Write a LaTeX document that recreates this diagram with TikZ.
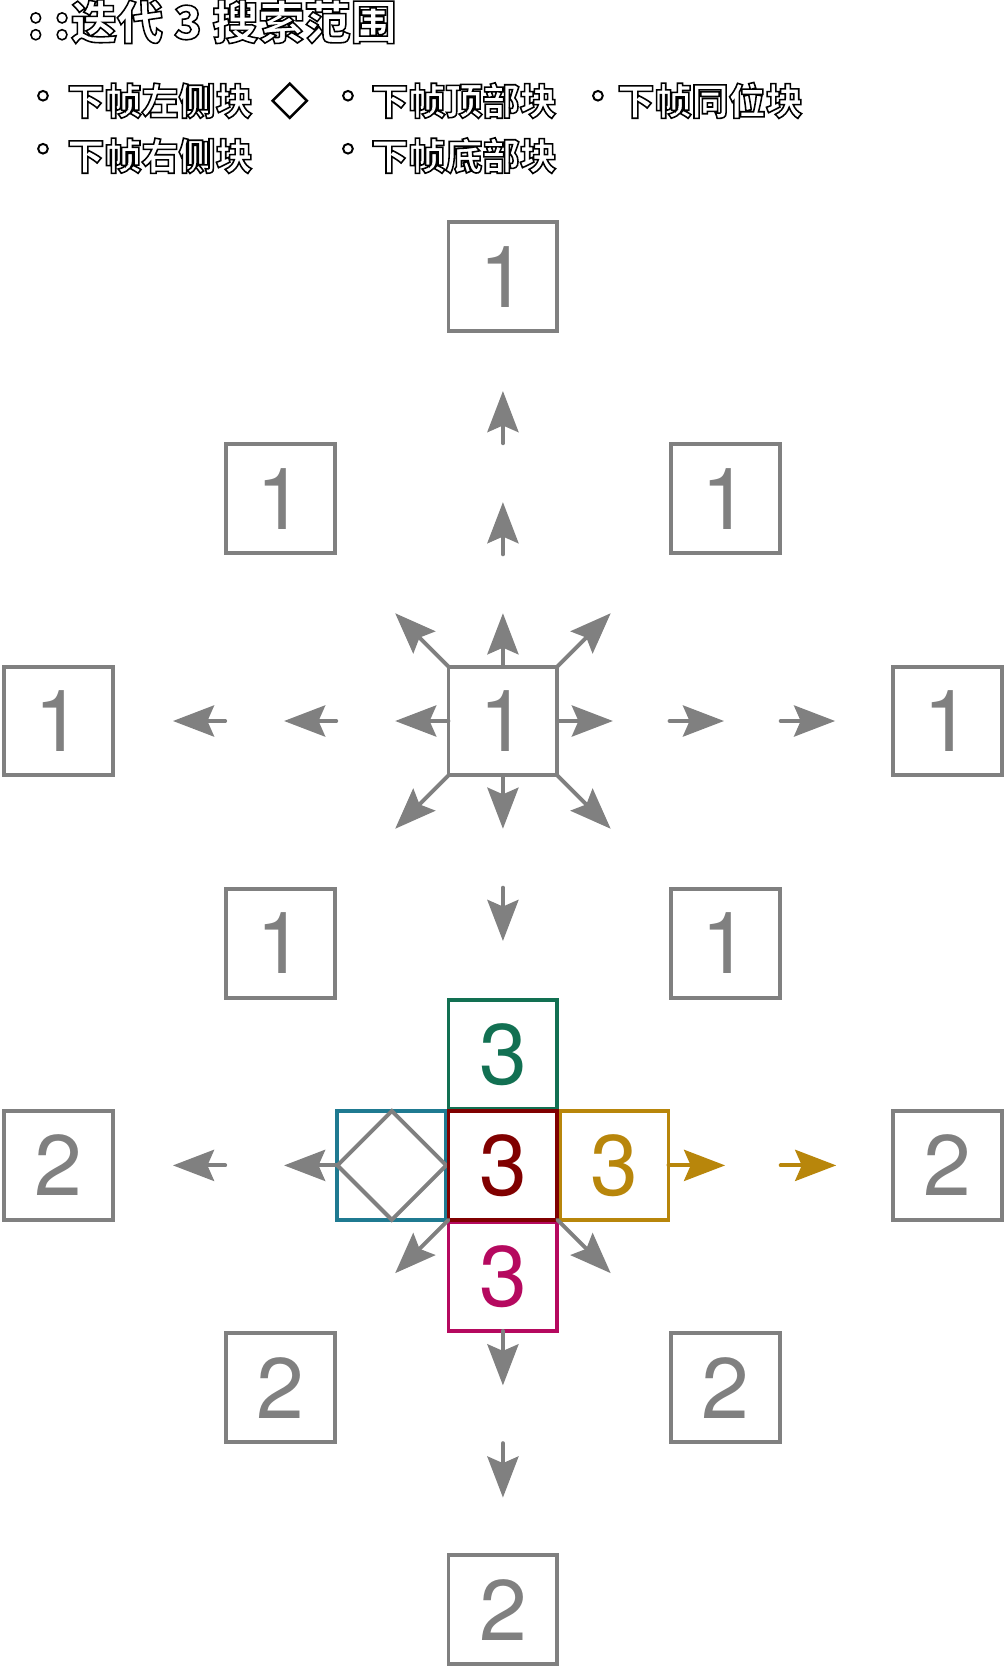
\documentclass[tikz,border=0pt]{standalone}
\usepackage{fontspec}
\setmainfont{TeX Gyre Heros}
\newfontfamily\cjkfont{Noto Sans CJK SC}
\newfontfamily\symfont{DejaVu Sans}
\usetikzlibrary{arrows.meta}
\definecolor{blkgray}{RGB}{128,128,128}
\definecolor{topgreen}{RGB}{18,112,82}
\definecolor{samered}{RGB}{128,0,0}
\definecolor{rightgold}{RGB}{184,134,11}
\definecolor{botmagenta}{RGB}{181,9,95}
\definecolor{leftblue}{RGB}{31,122,145}
% outlined (stroked) text
\newcommand{\hollow}[2][0.4]{\special{pdf:literal direct 1 Tr #1 w}#2\special{pdf:literal direct 0 Tr}}

\begin{document}
\begin{tikzpicture}[
    blk/.style={rectangle, draw=blkgray, line width=1pt, minimum size=0.98cm, inner sep=0pt, outer sep=0pt, text=blkgray, font=\fontsize{22}{22}\selectfont},
    arr/.style={-{Stealth[length=0.37cm, width=0.28cm, inset=0.06cm]}, draw=blkgray, line width=1pt, line cap=round},
    lgd/.style={anchor=base west, inner sep=0pt, font=\cjkfont\bfseries\fontsize{9.5}{9.5}\selectfont},
    lbullet/.style={inner sep=0pt, font=\symfont\fontsize{9.5}{9.5}\selectfont}]
    \useasboundingbox (-4.527,-8.524) rectangle (4.518,6.49);

    % title and legend
    \node[anchor=base west, inner sep=0pt, font=\cjkfont\bfseries\fontsize{11.8}{11.8}\selectfont] (title) at (-4.285,6.137) {\hollow{:\hspace{0.22em}:\hspace{0.02em}迭代 3 搜索范围}};
    \node[lbullet] (m1) at (-4.14,5.59) {\hollow[0.25]{◦}};
    \node[lgd] (k1) at (-3.929,5.456) {\hollow{下帧左侧块}\hspace{0.5em}{\mdseries\hollow[0.25]{◇}}};
    \node[lbullet] (m2) at (-1.395,5.59) {\hollow[0.25]{◦}};
    \node[lgd] (k2) at (-1.193,5.456) {\hollow{下帧顶部块}};
    \node[lbullet] (m3) at (0.855,5.59) {\hollow[0.25]{◦}};
    \node[lgd] (k3) at (1.022,5.456) {\hollow{下帧同位块}};
    \node[lbullet] (m4) at (-4.14,5.113) {\hollow[0.25]{◦}};
    \node[lgd] (k4) at (-3.929,4.961) {\hollow{下帧右侧块}};
    \node[lbullet] (m5) at (-1.395,5.113) {\hollow[0.25]{◦}};
    \node[lgd] (k5) at (-1.193,4.961) {\hollow{下帧底部块}};

    % iteration 1
    \node[blk] (c1) at (0,0) {1};
    \node[blk] (t1) at (0,4) {1};
    \node[blk] (tl1) at (-2,2) {1};
    \node[blk] (tr1) at (2,2) {1};
    \node[blk] (l1) at (-4,0) {1};
    \node[blk] (r1) at (4,0) {1};
    \node[blk] (bl1) at (-2,-2) {1};
    \node[blk] (br1) at (2,-2) {1};

    % iteration 2
    \node[blk] (l2) at (-4,-4) {2};
    \node[blk] (r2) at (4,-4) {2};
    \node[blk] (bl2) at (-2,-6) {2};
    \node[blk] (br2) at (2,-6) {2};
    \node[blk] (b2) at (0,-8) {2};

    % iteration 3
    \node[blk, draw=leftblue] (l3) at (-1,-4) {};
    \draw[line width=1pt, draw=blkgray] (l3.west) -- (l3.north) -- (l3.east) -- (l3.south) -- cycle;
    \node[blk, draw=topgreen, text=topgreen] (t3) at (0,-3) {3};
    \node[blk, draw=rightgold, text=rightgold] (r3) at (1,-4) {3};
    \node[blk, draw=botmagenta, text=botmagenta] (b3) at (0,-5) {3};
    \node[blk, draw=samered, text=samered] (c3) at (0,-4) {3};

    % arrow ends
    \coordinate (up1) at (0,0.97);
    \coordinate (up2s) at (0,1.5);
    \coordinate (up2) at (0,1.97);
    \coordinate (up3s) at (0,2.5);
    \coordinate (up3) at (0,2.97);
    \coordinate (lf1) at (-0.97,0);
    \coordinate (lf2s) at (-1.5,0);
    \coordinate (lf2) at (-1.97,0);
    \coordinate (lf3s) at (-2.5,0);
    \coordinate (lf3) at (-2.97,0);
    \coordinate (rt1) at (0.99,0);
    \coordinate (rt2s) at (1.5,0);
    \coordinate (rt2) at (1.99,0);
    \coordinate (rt3s) at (2.5,0);
    \coordinate (rt3) at (2.99,0);
    \coordinate (dn1) at (0,-0.97);
    \coordinate (dn2s) at (0,-1.5);
    \coordinate (dn2) at (0,-1.98);
    \coordinate (nw1) at (-0.97,0.97);
    \coordinate (ne1) at (0.97,0.97);
    \coordinate (sw1) at (-0.97,-0.97);
    \coordinate (se1) at (0.97,-0.97);
    \coordinate (lf4) at (-1.97,-4);
    \coordinate (lf5s) at (-2.5,-4);
    \coordinate (lf5) at (-2.97,-4);
    \coordinate (rt4) at (2.0,-4);
    \coordinate (rt5s) at (2.5,-4);
    \coordinate (rt5) at (3.0,-4);
    \coordinate (sw3) at (-0.97,-4.97);
    \coordinate (se3) at (0.97,-4.97);
    \coordinate (dn4) at (0,-5.98);
    \coordinate (dn5s) at (0,-6.5);
    \coordinate (dn5) at (0,-6.99);

    \draw[arr] (c1.north) -- (up1);
    \draw[arr] (up2s) -- (up2);
    \draw[arr] (up3s) -- (up3);
    \draw[arr] (c1.west) -- (lf1);
    \draw[arr] (lf2s) -- (lf2);
    \draw[arr] (lf3s) -- (lf3);
    \draw[arr] (c1.east) -- (rt1);
    \draw[arr] (rt2s) -- (rt2);
    \draw[arr] (rt3s) -- (rt3);
    \draw[arr] (c1.south) -- (dn1);
    \draw[arr] (dn2s) -- (dn2);
    \draw[arr] (c1.north west) -- (nw1);
    \draw[arr] (c1.north east) -- (ne1);
    \draw[arr] (c1.south west) -- (sw1);
    \draw[arr] (c1.south east) -- (se1);

    \draw[arr] (l3.west) -- (lf4);
    \draw[arr] (lf5s) -- (lf5);
    \draw[arr, draw=rightgold] (r3.east) -- (rt4);
    \draw[arr, draw=rightgold] (rt5s) -- (rt5);
    \draw[arr] (c3.south west) -- (sw3);
    \draw[arr] (c3.south east) -- (se3);
    \draw[arr] (b3.south) -- (dn4);
    \draw[arr] (dn5s) -- (dn5);
\end{tikzpicture}
\end{document}
